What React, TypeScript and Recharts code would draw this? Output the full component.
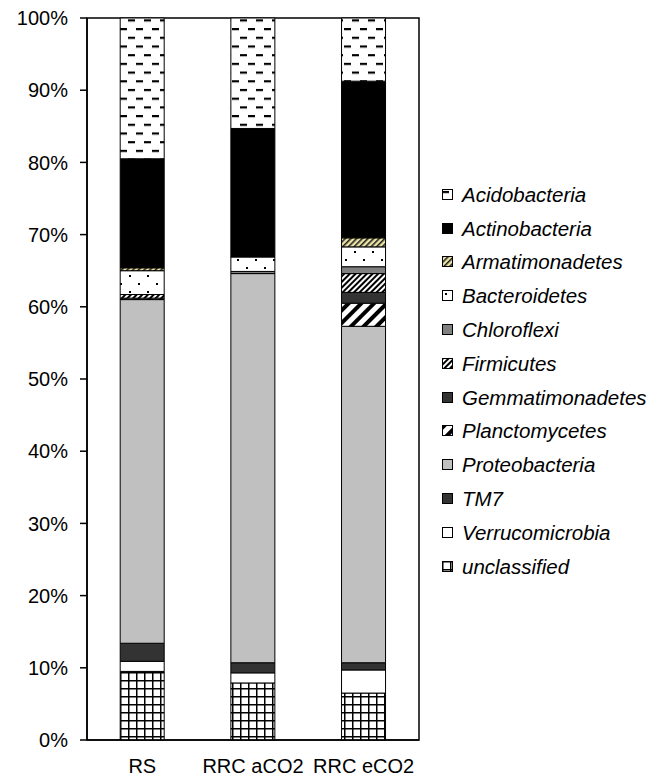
import { Bar, BarChart, ReferenceArea, XAxis, YAxis } from 'recharts';

const samples = ['RS', 'RRC aCO2', 'RRC eCO2'];

// stacking order, bottom to top
const unclassified = [9.5, 7.9, 6.5];
const verrucomicrobia = [1.4, 1.4, 3.2];
const tm7 = [2.5, 1.4, 1.0];
const proteobacteria = [47.6, 53.9, 46.6];
const planctomycetes = [0.2, 0, 3.2];
const gemmatimonadetes = [0, 0, 1.5];
const firmicutes = [0.5, 0, 2.6];
const chloroflexi = [0, 0.3, 0.95];
const bacteroidetes = [3.3, 2.0, 2.75];
const armatimonadetes = [0.4, 0, 1.25];
const actinobacteria = [15.1, 17.8, 21.7];
const acidobacteria = [19.5, 15.3, 8.75];

const yTicks = [0, 10, 20, 30, 40, 50, 60, 70, 80, 90, 100];

const SERIES: Array<{ name: string; values: number[]; fill: string }> = [
  { name: 'unclassified', values: unclassified, fill: 'url(#pGrid)' },
  { name: 'Verrucomicrobia', values: verrucomicrobia, fill: '#ffffff' },
  { name: 'TM7', values: tm7, fill: '#333333' },
  { name: 'Proteobacteria', values: proteobacteria, fill: '#c0c0c0' },
  { name: 'Planctomycetes', values: planctomycetes, fill: 'url(#pWide)' },
  { name: 'Gemmatimonadetes', values: gemmatimonadetes, fill: '#333333' },
  { name: 'Firmicutes', values: firmicutes, fill: 'url(#pFine)' },
  { name: 'Chloroflexi', values: chloroflexi, fill: '#808080' },
  { name: 'Bacteroidetes', values: bacteroidetes, fill: 'url(#pDots)' },
  { name: 'Armatimonadetes', values: armatimonadetes, fill: 'url(#pYellow)' },
  { name: 'Actinobacteria', values: actinobacteria, fill: '#000000' },
  { name: 'Acidobacteria', values: acidobacteria, fill: 'url(#pDash)' },
];

const FONT = 'Arial, "Liberation Sans", sans-serif';

function LegendBox() {
  const items = [...SERIES].reverse();
  return (
    <div
      style={{
        position: 'absolute',
        left: 442,
        top: 178,
        fontFamily: FONT,
        fontSize: 20.5,
        fontStyle: 'italic',
        color: '#000',
      }}
    >
      {items.map((s) => (
        <div key={s.name} style={{ display: 'flex', alignItems: 'center', height: 33.8 }}>
          <svg width={12} height={12} style={{ marginRight: 8 }}>
            <rect x={0.5} y={0.5} width={10} height={10} fill={s.fill} stroke="#000" strokeWidth={1} />
          </svg>
          <span>{s.name}</span>
        </div>
      ))}
    </div>
  );
}

export default function App() {
  const data = samples.map((label, i) => {
    const row: Record<string, number | string> = { label };
    for (const s of SERIES) row[s.name] = s.values[i];
    return row;
  });

  return (
    <div style={{ position: 'relative', width: 664, height: 779, background: '#fff' }}>
      <style>{'body{margin:0}'}</style>
      <BarChart
        width={664}
        height={779}
        data={data}
        margin={{ top: 18, right: 245, left: 0, bottom: 0 }}
        barCategoryGap="30%"
      >
        <defs>
          <pattern id="pGrid" width={8} height={8} patternUnits="userSpaceOnUse">
            <rect width={8} height={8} fill="#fff" />
            <path d="M0 0.75 H8 M0.75 0 V8" stroke="#000" strokeWidth={1.5} />
          </pattern>
          <pattern id="pDash" width={16} height={17.4} patternUnits="userSpaceOnUse">
            <rect width={16} height={17.4} fill="#fff" />
            <path d="M0 3 H7 M8 11.7 H15" stroke="#000" strokeWidth={2} />
          </pattern>
          <pattern id="pDots" width={18} height={16} patternUnits="userSpaceOnUse">
            <rect width={18} height={16} fill="#fff" />
            <rect x={3} y={3} width={2} height={2} fill="#000" />
            <rect x={12} y={11} width={2} height={2} fill="#000" />
          </pattern>
          <pattern id="pWide" width={9} height={9} patternUnits="userSpaceOnUse" patternTransform="rotate(45)">
            <rect width={9} height={9} fill="#fff" />
            <rect width={4} height={9} fill="#000" />
          </pattern>
          <pattern id="pFine" width={4} height={4} patternUnits="userSpaceOnUse" patternTransform="rotate(45)">
            <rect width={4} height={4} fill="#fff" />
            <rect width={2} height={4} fill="#000" />
          </pattern>
          <pattern id="pYellow" width={4} height={4} patternUnits="userSpaceOnUse" patternTransform="rotate(45)">
            <rect width={4} height={4} fill="#efe6a6" />
            <rect width={1.6} height={4} fill="#222" />
          </pattern>
        </defs>
        <XAxis
          dataKey="label"
          height={39}
          tickLine={false}
          tickSize={0}
          tickMargin={19}
          axisLine={{ stroke: '#000', strokeWidth: 1.5 }}
          tick={{ fill: '#000', fontSize: 20, fontFamily: FONT }}
          interval={0}
        />
        <YAxis
          width={87}
          domain={[0, 100]}
          ticks={yTicks}
          tickFormatter={(v: number) => `${v}%`}
          tickSize={7}
          tickMargin={12}
          axisLine={{ stroke: '#000', strokeWidth: 1.5 }}
          tickLine={{ stroke: '#000', strokeWidth: 1.5 }}
          tick={{ fill: '#000', fontSize: 20, fontFamily: FONT }}
        />
        <ReferenceArea y1={0} y2={100} fill="none" stroke="#000" strokeWidth={1.5} ifOverflow="visible" />
        {SERIES.map((s) => (
          <Bar
            key={s.name}
            dataKey={s.name}
            stackId="a"
            fill={s.fill}
            stroke="#000"
            strokeWidth={1}
            isAnimationActive={false}
          />
        ))}
      </BarChart>
      <LegendBox />
    </div>
  );
}
